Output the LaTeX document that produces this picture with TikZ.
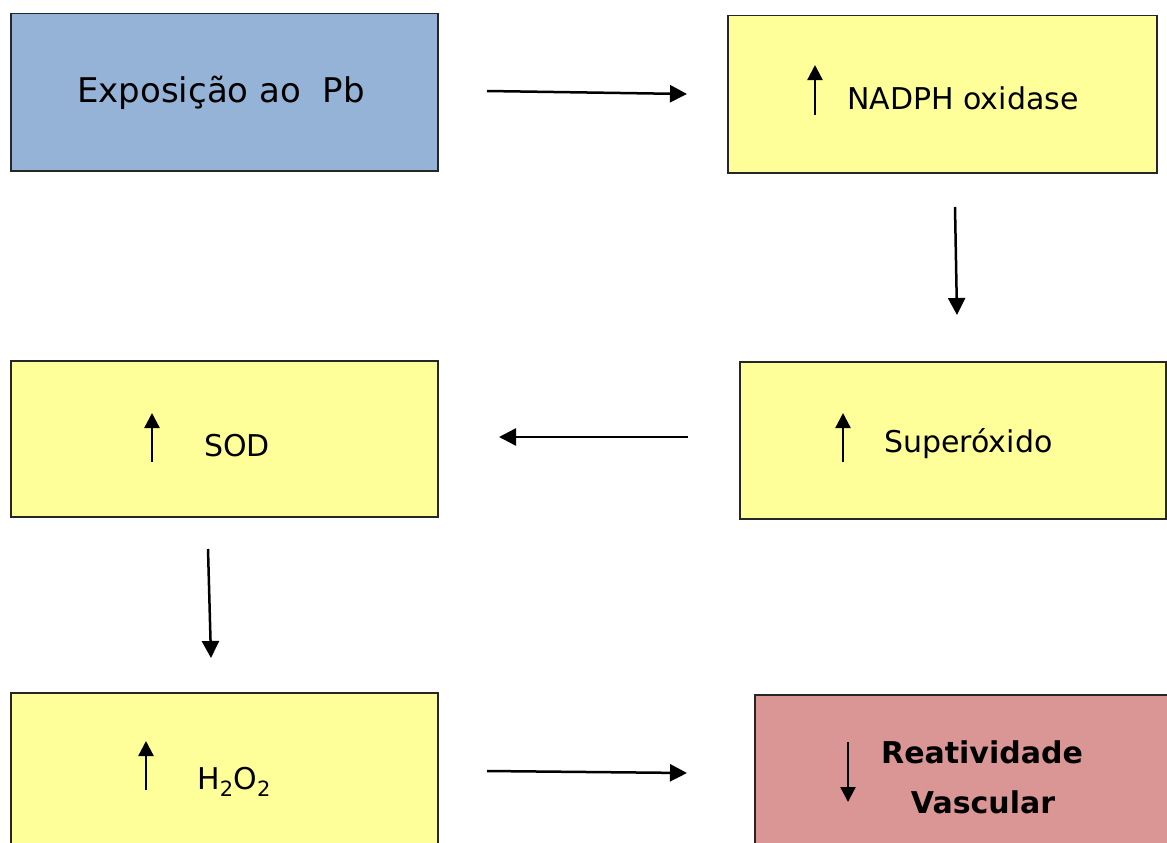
\documentclass[tikz,border=0pt]{standalone}
\usepackage{fontspec}
\setmainfont{DejaVu Sans}
\usetikzlibrary{arrows.meta}

\definecolor{expoblue}{HTML}{95B3D7}
\definecolor{stepyellow}{HTML}{FFFF99}
\definecolor{effectred}{HTML}{D99694}

\tikzset{
    box/.style={draw=black!85,line width=1.5pt,rectangle,anchor=north west,inner sep=0pt},
    flow/.style={line width=2.5pt,-{Triangle[length=17pt,width=17pt]}},
    updown/.style={line width=2.3pt,-{Triangle[length=15pt,width=15pt]}},
    lbl/.style={anchor=base west,inner sep=0pt,font=\fontsize{30}{34}\selectfont}
}

\begin{document}
\begin{tikzpicture}[x=1pt,y=-1pt]
                    \useasboundingbox (0,0) rectangle (1167,843);
                    \clip (0,0) rectangle (1167,843);
                    % boxes
                    \node[box,fill=expoblue,minimum width=427pt,minimum height=157pt,name=expo] at (10,13) {};
                    \node[box,fill=stepyellow,minimum width=429pt,minimum height=157pt,name=nadph] at (727,15) {};
                    \node[box,fill=stepyellow,minimum width=426pt,minimum height=157pt,name=super] at (739,361) {};
                    \node[box,fill=stepyellow,minimum width=427pt,minimum height=156pt,name=sod] at (10,360) {};
                    \node[box,fill=stepyellow,minimum width=427pt,minimum height=160pt,name=hperox] at (10,692) {};
                    \node[box,fill=effectred,minimum width=430pt,minimum height=160pt,name=react] at (754,694) {};
                    % texts
                    \node[anchor=base,inner sep=0pt,font=\fontsize{34}{40}\selectfont,name=expotxt] at (221,102) {Exposição ao\ \ Pb};
                    \node[lbl,name=nadphtxt] at (847,109) {NADPH oxidase};
                    \node[lbl,name=supertxt] at (884,452) {Superóxido};
                    \node[lbl,name=sodtxt] at (204,456) {SOD};
                    \node[lbl,name=hperoxtxt] at (197,789) {H\textsubscript{2}O\textsubscript{2}};
                    \node[anchor=base,inner sep=0pt,font=\bfseries\fontsize{30}{36}\selectfont,name=reacttxt] at (982,763) {Reatividade};
                    \node[anchor=base,inner sep=0pt,font=\bfseries\fontsize{30}{36}\selectfont,name=vasctxt] at (983,813) {Vascular};
                    % small arrows in the boxes
                    \draw[updown] (815,115) -- (815,65);
                    \draw[updown] (843,462) -- (843,413);
                    \draw[updown] (152,462) -- (152,413);
                    \draw[updown] (146,790) -- (146,741);
                    \draw[updown] (848,742) -- (848,802);
                    % connectors
                    \coordinate (a) at (487,91);
                    \coordinate (b) at (687,94);
                    \coordinate (c) at (955,207);
                    \coordinate (d) at (957,315);
                    \coordinate (e) at (688,437);
                    \coordinate (f) at (499,437);
                    \coordinate (g) at (208,549);
                    \coordinate (h) at (211,658);
                    \coordinate (i) at (487,771);
                    \coordinate (j) at (687,773);
                    \draw[flow] (a) -- (b);
                    \draw[flow] (c) -- (d);
                    \draw[flow] (e) -- (f);
                    \draw[flow] (g) -- (h);
                    \draw[flow] (i) -- (j);
                \end{tikzpicture}
\end{document}
